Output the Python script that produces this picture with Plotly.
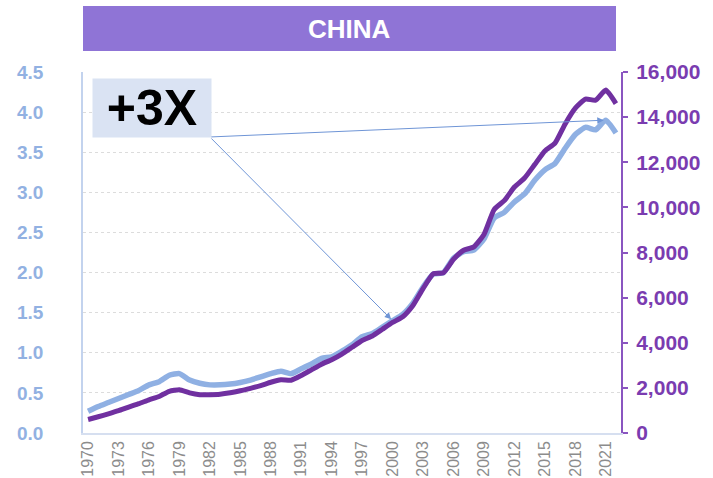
import plotly.graph_objects as go

years = list(range(1970, 2023))

# Left axis series (light blue)
blue_vals = [0.27, 0.33, 0.38, 0.43, 0.48, 0.53, 0.60, 0.64, 0.72, 0.74,
             0.66, 0.62, 0.60, 0.60, 0.61, 0.63, 0.66, 0.70, 0.74, 0.77,
             0.74, 0.80, 0.86, 0.93, 0.95, 1.02, 1.10, 1.20, 1.24, 1.32,
             1.40, 1.48, 1.62, 1.82, 1.98, 2.00, 2.18, 2.26, 2.28, 2.42,
             2.68, 2.75, 2.88, 2.98, 3.15, 3.28, 3.36, 3.55, 3.72, 3.81,
             3.78, 3.90, 3.74]

# Right axis series (purple)
purple_vals = [600, 720, 850, 990, 1150, 1300, 1470, 1620, 1850, 1920,
               1780, 1700, 1700, 1720, 1780, 1870, 1980, 2100, 2250, 2360,
               2340, 2550, 2800, 3050, 3250, 3500, 3800, 4100, 4300, 4600,
               4900, 5150, 5650, 6400, 7050, 7100, 7700, 8100, 8250, 8800,
               9900, 10300, 10900, 11300, 11900, 12500, 12850, 13700, 14400, 14800,
               14750, 15200, 14600]

x_ticks = list(range(1970, 2022, 3))
left_ticks = [0, 0.5, 1.0, 1.5, 2.0, 2.5, 3.0, 3.5, 4.0, 4.5]
right_ticks = list(range(0, 16001, 2000))

title_text = "CHINA"
callout_text = "+3X"
arrow_years = [2000, 2021]

BLUE = "#8fb0e3"
PURPLE = "#7030a0"
FONT = "Liberation Sans, Arial, sans-serif"

fig = go.Figure()
fig.add_trace(go.Scatter(x=years, y=blue_vals, mode="lines",
                         line=dict(color=BLUE, width=5.5, shape="spline", smoothing=0.5),
                         yaxis="y", showlegend=False))
fig.add_trace(go.Scatter(x=years, y=purple_vals, mode="lines",
                         line=dict(color=PURPLE, width=5, shape="spline", smoothing=0.5),
                         yaxis="y2", showlegend=False))

fig.update_layout(
    width=713, height=478,
    margin=dict(l=83, r=92, t=72, b=45),
    paper_bgcolor="white", plot_bgcolor="white",
    font=dict(family=FONT),
    xaxis=dict(range=[1969.5, 2022.5], tickvals=x_ticks, tickangle=-90,
               tickfont=dict(size=16, color="#8c8c8c"), automargin=False,
               showgrid=False, zeroline=False, showline=True,
               linecolor="#d6dff0", linewidth=1.5, ticks=""),
    yaxis=dict(range=[0, 4.5], tickvals=left_ticks, tickformat=".1f",
               tickfont=dict(size=19, color="#92b1e2", weight="bold"),
               showgrid=True, gridcolor="#dcdcdc", griddash="dot", gridwidth=1,
               zeroline=False, showline=True, linecolor="#c3d3ee", linewidth=1.5,
               ticks="", ticklabelstandoff=34, automargin=False),
    yaxis2=dict(range=[0, 16000], tickvals=right_ticks, tickformat=",",
                overlaying="y", side="right",
                tickfont=dict(size=21, color="#7a3cb0", weight="bold"),
                showgrid=False, zeroline=False, showline=True,
                linecolor="#8a55c0", linewidth=2, ticks="outside",
                ticklen=5, tickcolor="#8a55c0", tickwidth=1.5,
                ticklabelstandoff=4, automargin=False),
)

# Title bar
fig.add_shape(type="rect", xref="paper", yref="paper",
              x0=0, x1=0.9907, y0=1.058, y1=1.183,
              fillcolor="#8f74d6", line=dict(width=0), layer="above")
fig.add_annotation(xref="paper", yref="paper", x=0.4954, y=1.12,
                   text="<b>" + title_text + "</b>", showarrow=False,
                   font=dict(size=26, color="white", family=FONT),
                   xanchor="center", yanchor="middle")

# Callout box
fig.add_annotation(xref="x", yref="y", x=1976.3, y=4.05,
                   text="<b>" + callout_text + "</b>", showarrow=False,
                   width=118, height=58, bgcolor="#dae3f3", borderpad=0,
                   font=dict(size=50, color="black", family=FONT),
                   xanchor="center", yanchor="middle")

# Arrows from the callout corner to data points
for yr in arrow_years:
    idx = years.index(yr)
    fig.add_annotation(xref="x", yref="y", x=yr, y=blue_vals[idx],
                       axref="x", ayref="y", ax=1982.0, ay=3.69,
                       text="", showarrow=True, arrowhead=2, arrowsize=1.3,
                       arrowwidth=1, arrowcolor="#6f95d6", standoff=2)

fig.write_html("out.html", config={"displayModeBar": False},
               post_script="document.body.style.margin='0';")
